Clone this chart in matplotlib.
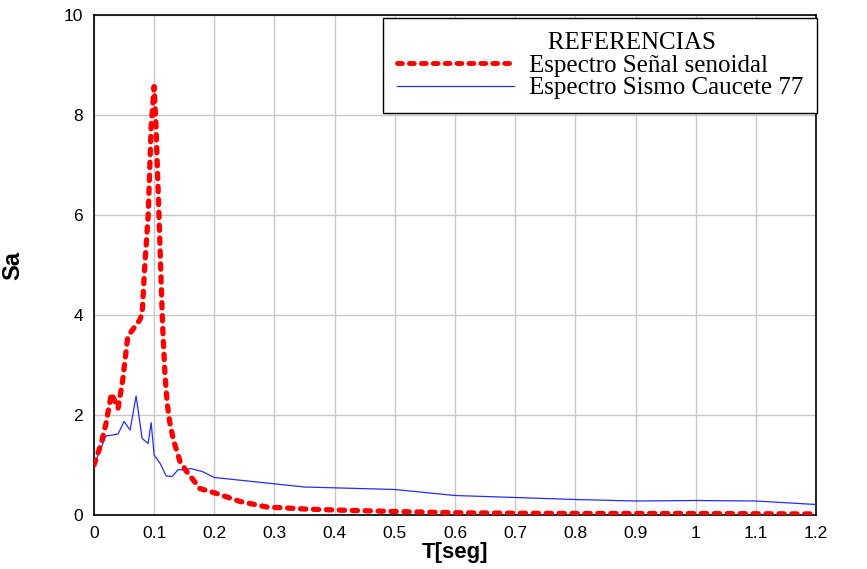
import numpy as np
import matplotlib.pyplot as plt
from matplotlib.lines import Line2D

# --- Spectrum of the sine signal ---
t_sen = np.array([0.0, 0.012, 0.02, 0.029, 0.04, 0.048, 0.056, 0.062, 0.07, 0.076,
                  0.080, 0.085, 0.090, 0.095, 0.100, 0.103, 0.108, 0.114, 0.118,
                  0.122, 0.126, 0.132, 0.143, 0.154, 0.165, 0.176, 0.187, 0.204,
                  0.243, 0.287, 0.32, 0.35, 0.40, 0.50, 0.60, 0.70, 0.80, 0.90,
                  1.00, 1.10, 1.20])
sa_sen = np.array([1.0, 1.43, 1.83, 2.43, 2.13, 2.72, 3.55, 3.67, 3.8, 3.9,
                   4.03, 5.1, 5.97, 7.77, 8.57, 7.8, 6.0, 3.8, 2.8,
                   2.2, 1.85, 1.5, 1.07, 0.87, 0.70, 0.53, 0.49, 0.43,
                   0.27, 0.16, 0.14, 0.12, 0.10, 0.07, 0.045, 0.035, 0.03, 0.03,
                   0.03, 0.025, 0.02])

# --- Spectrum of the Caucete 77 earthquake ---
t_cau = np.array([0.0, 0.02, 0.04, 0.05, 0.06, 0.07, 0.08, 0.09, 0.095, 0.10,
                  0.11, 0.12, 0.13, 0.14, 0.15, 0.16, 0.18, 0.20, 0.35, 0.50,
                  0.60, 0.70, 0.80, 0.90, 1.00, 1.10, 1.20])
sa_cau = np.array([1.0, 1.58, 1.62, 1.87, 1.70, 2.38, 1.53, 1.43, 1.85, 1.20,
                   1.03, 0.78, 0.77, 0.91, 0.90, 0.93, 0.87, 0.75, 0.56, 0.51,
                   0.39, 0.35, 0.31, 0.28, 0.29, 0.28, 0.21])

x_ticks = np.round(np.arange(0, 1.21, 0.1), 1)
x_labels = ['0', '0.1', '0.2', '0.3', '0.4', '0.5', '0.6', '0.7', '0.8', '0.9', '1', '1.1', '1.2']
y_ticks = [0, 2, 4, 6, 8, 10]

plt.rcParams['font.family'] = ['Liberation Sans', 'DejaVu Sans']

RED_DASH = (0, (1.0, 1.45))

fig = plt.figure(figsize=(8.67, 5.69), dpi=100)
ax = fig.add_axes([0.1084, 0.0949, 0.8328, 0.8787])

ax.plot(t_sen, sa_sen, color='#ff0000', lw=3.8, linestyle=RED_DASH,
        dash_capstyle='round', zorder=4)
ax.plot(t_cau, sa_cau, color='#2a2aff', lw=0.9, zorder=3)

ax.set_xlim(0, 1.2)
ax.set_ylim(0, 10)
ax.set_xticks(x_ticks)
ax.set_xticklabels(x_labels)
ax.set_yticks(y_ticks)
ax.tick_params(axis='both', labelsize=12.5, length=0, pad=8)
ax.grid(True, color='#c8c8c8', lw=1)
ax.set_axisbelow(True)
for s in ax.spines.values():
    s.set_color('black')
    s.set_linewidth(1.2)

ax.set_xlabel('T[seg]', fontsize=16, fontweight='bold', va='top')
ax.xaxis.set_label_coords(0.5, -0.054)
ax.set_ylabel('Sa', fontsize=17, fontweight='bold')
ax.yaxis.set_label_coords(-0.096, 0.5)

# legend with a heading row
handles = [Line2D([], [], color='none'),
           Line2D([], [], color='#ff0000', lw=3.5, linestyle=RED_DASH,
                  dash_capstyle='round'),
           Line2D([], [], color='#2a2aff', lw=0.9)]
labels = ['   REFERENCIAS', 'Espectro Señal senoidal', 'Espectro Sismo Caucete 77']
leg = fig.legend(handles, labels, loc='upper left',
                 bbox_to_anchor=(383 / 867, 1 - 18 / 569),
                 prop={'family': 'Liberation Serif', 'size': 18},
                 handlelength=4.7, handletextpad=0.6, labelspacing=0.0,
                 borderpad=0.55, borderaxespad=0, fancybox=False,
                 edgecolor='black', framealpha=1)
leg.get_frame().set_linewidth(1.0)

fig.savefig('out.png', dpi=100)
